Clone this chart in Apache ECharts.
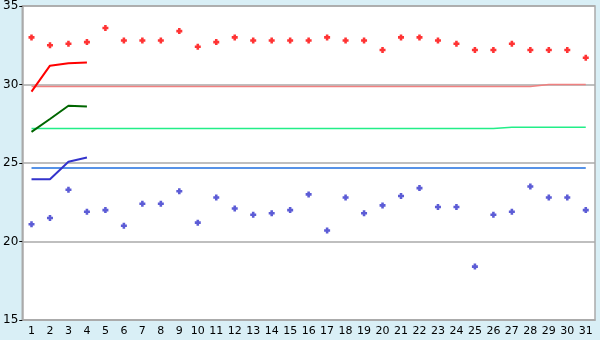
<!DOCTYPE html>
<html>
<head>
<meta charset="utf-8">
<script src="https://cdn.jsdelivr.net/npm/echarts@6/dist/echarts.min.js"></script>
<style>
html,body{margin:0;padding:0;background:#d9eff6;}
#c{width:600px;height:340px;}
</style>
</head>
<body>
<div id="c"></div>
<script>
var categories = ['1','2','3','4','5','6','7','8','9','10','11','12','13','14','15','16','17','18','19','20','21','22','23','24','25','26','27','28','29','30','31'];
var yTicks = [15, 20, 25, 30, 35];
var redPoints = [33.0,32.5,32.6,32.7,33.6,32.8,32.8,32.8,33.4,32.4,32.7,33.0,32.8,32.8,32.8,32.8,33.0,32.8,32.8,32.2,33.0,33.0,32.8,32.6,32.2,32.2,32.6,32.2,32.2,32.2,31.7];
var bluePoints = [21.1,21.5,23.3,21.9,22.0,21.0,22.4,22.4,23.2,21.2,22.8,22.1,21.7,21.8,22.0,23.0,20.7,22.8,21.8,22.3,22.9,23.4,22.2,22.2,18.4,21.7,21.9,23.5,22.8,22.8,22.0];
var redLine = [29.55,31.2,31.35,31.4];
var greenLine = [26.98,27.8,28.65,28.6];
var blueLine = [23.97,23.97,25.08,25.35];
var pinkRef = [29.87,29.87,29.87,29.87,29.87,29.87,29.87,29.87,29.87,29.87,29.87,29.87,29.87,29.87,29.87,29.87,29.87,29.87,29.87,29.87,29.87,29.87,29.87,29.87,29.87,29.87,29.87,29.87,30.0,30.0,30.0];
var greenRef = [27.2,27.2,27.2,27.2,27.2,27.2,27.2,27.2,27.2,27.2,27.2,27.2,27.2,27.2,27.2,27.2,27.2,27.2,27.2,27.2,27.2,27.2,27.2,27.2,27.2,27.2,27.27,27.27,27.27,27.27,27.27];
var blueRef = [24.68,24.68,24.68,24.68,24.68,24.68,24.68,24.68,24.68,24.68,24.68,24.68,24.68,24.68,24.68,24.68,24.68,24.68,24.68,24.68,24.68,24.68,24.68,24.68,24.68,24.68,24.68,24.68,24.68,24.68,24.68];

var plus = 'path://M2,0H5V2H7V5H5V7H2V5H0V2H2Z';
function lineSeries(data, color, width) {
  return {type:'line', data:data, symbol:'none', animation:false, silent:true,
    lineStyle:{color:color, width:width}, z:3};
}
var chart = echarts.init(document.getElementById('c'), null, {renderer:'canvas'});
chart.setOption({
  backgroundColor:'#d9eff6',
  animation:false,
  grid:{left:20, right:5, top:5, bottom:20, show:true, backgroundColor:'#ffffff', borderColor:'#aaaaaa', borderWidth:1.5},
  xAxis:{type:'category', data:categories, boundaryGap:true,
    axisLine:{lineStyle:{color:'#aaaaaa', width:1.5}},
    axisTick:{alignWithLabel:true, length:5, lineStyle:{color:'#000000'}},
    axisLabel:{color:'#000000', fontFamily:'DejaVu Sans', fontSize:11, margin:6, interval:0},
    splitLine:{show:false}},
  yAxis:{type:'value', min:yTicks[0], max:yTicks[yTicks.length-1], interval:5,
    axisLine:{show:true, lineStyle:{color:'#aaaaaa', width:1.5}},
    axisTick:{show:true, length:3, lineStyle:{color:'#000000'}},
    axisLabel:{color:'#000000', fontFamily:'DejaVu Sans', fontSize:12, margin:4},
    splitLine:{show:true, lineStyle:{color:'#aaaaaa', width:1.5}}},
  series:[
    lineSeries(pinkRef, '#f08080', 1.5),
    lineSeries(greenRef, '#22ee88', 1.5),
    lineSeries(blueRef, '#1f6fdf', 1.5),
    lineSeries(redLine, '#ff0000', 2),
    lineSeries(greenLine, '#006600', 2),
    lineSeries(blueLine, '#3333cc', 2),
    {type:'scatter', data:redPoints, symbol:plus, symbolSize:6, itemStyle:{color:'#ff0000'}, z:5, silent:true},
    {type:'scatter', data:bluePoints, symbol:plus, symbolSize:6, itemStyle:{color:'#3333cc'}, z:5, silent:true}
  ]
});
</script>
</body>
</html>
